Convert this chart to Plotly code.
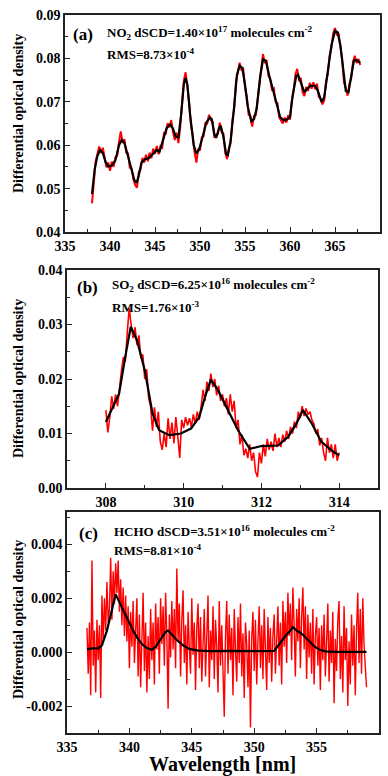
import numpy as np
import plotly.graph_objects as go

# ---------------- Panel (a) NO2 ----------------
no2_fit_wl = [338.0, 338.3, 338.6, 338.9, 339.2, 339.5, 339.8, 340.2, 340.6, 341.0, 341.3, 341.6,
              342.0, 342.4, 342.7, 342.95, 343.2, 343.5, 343.9, 344.3, 344.8, 345.2, 345.5, 345.9,
              346.3, 346.7, 347.0, 347.3, 347.6, 347.9, 348.2, 348.4, 348.6, 348.9, 349.3, 349.6,
              349.9, 350.3, 350.7, 351.1, 351.3, 351.6, 351.8, 352.1, 352.3, 352.6, 352.9, 353.1,
              353.4, 353.8, 354.1, 354.4, 354.7, 355.0, 355.3, 355.7, 356.0, 356.3, 356.7, 357.0,
              357.3, 357.7, 358.1, 358.5, 358.9, 359.3, 359.7, 360.0, 360.3, 360.7, 360.9, 361.2,
              361.6, 361.9, 362.3, 362.8, 363.1, 363.5, 363.8, 364.2, 364.6, 365.0, 365.3, 365.6,
              365.9, 366.2, 366.5, 366.8, 367.1, 367.4, 367.8]
no2_fit_od = [0.0487, 0.0545, 0.0575, 0.0589, 0.0582, 0.0562, 0.0551, 0.0553, 0.0565, 0.0600, 0.0612, 0.0605,
              0.0575, 0.0540, 0.0520, 0.0513, 0.0530, 0.0560, 0.0568, 0.0570, 0.0582, 0.0589, 0.0585, 0.0610,
              0.0640, 0.0648, 0.0638, 0.0620, 0.0618, 0.0670, 0.0740, 0.0755, 0.0740, 0.0670, 0.0600, 0.0581,
              0.0590, 0.0620, 0.0652, 0.0664, 0.0660, 0.0625, 0.0617, 0.0638, 0.0645, 0.0620, 0.0580, 0.0577,
              0.0610, 0.0690, 0.0762, 0.0783, 0.0778, 0.0740, 0.0690, 0.0655, 0.0660, 0.0685, 0.0760, 0.0798,
              0.0795, 0.0760, 0.0730, 0.0700, 0.0665, 0.0657, 0.0660, 0.0665, 0.0715, 0.0760, 0.0762, 0.0745,
              0.0722, 0.0730, 0.0737, 0.0737, 0.0725, 0.0700, 0.0710, 0.0770, 0.0830, 0.0863, 0.0860, 0.0830,
              0.0770, 0.0725, 0.0722, 0.0760, 0.0795, 0.0796, 0.0790]
no2_meas_start, no2_meas_step = 338.0, 0.2
no2_meas_od = [0.0466, 0.0520, 0.0562, 0.0580, 0.0597, 0.0582, 0.0594, 0.0572, 0.0549, 0.0560,
               0.0541, 0.0562, 0.0550, 0.0572, 0.0576, 0.0608, 0.0632, 0.0605, 0.0614, 0.0583,
               0.0581, 0.0548, 0.0547, 0.0521, 0.0508, 0.0502, 0.0538, 0.0545, 0.0571, 0.0560,
               0.0578, 0.0563, 0.0583, 0.0570, 0.0592, 0.0580, 0.0598, 0.0579, 0.0597, 0.0594,
               0.0628, 0.0627, 0.0651, 0.0641, 0.0658, 0.0631, 0.0612, 0.0629, 0.0605, 0.0641,
               0.0706, 0.0748, 0.0768, 0.0734, 0.0697, 0.0646, 0.0622, 0.0583, 0.0560, 0.0592,
               0.0588, 0.0618, 0.0621, 0.0651, 0.0650, 0.0670, 0.0658, 0.0655, 0.0617, 0.0624,
               0.0626, 0.0652, 0.0630, 0.0627, 0.0583, 0.0568, 0.0592, 0.0604, 0.0657, 0.0684,
               0.0747, 0.0766, 0.0790, 0.0774, 0.0776, 0.0733, 0.0712, 0.0670, 0.0667, 0.0643,
               0.0668, 0.0669, 0.0707, 0.0738, 0.0783, 0.0810, 0.0789, 0.0796, 0.0760, 0.0752,
               0.0728, 0.0731, 0.0700, 0.0697, 0.0664, 0.0655, 0.0650, 0.0664, 0.0652, 0.0669,
               0.0659, 0.0702, 0.0724, 0.0763, 0.0776, 0.0750, 0.0753, 0.0722, 0.0713, 0.0734,
               0.0725, 0.0744, 0.0730, 0.0745, 0.0729, 0.0742, 0.0711, 0.0708, 0.0694, 0.0703,
               0.0747, 0.0764, 0.0807, 0.0824, 0.0858, 0.0870, 0.0855, 0.0856, 0.0824, 0.0797,
               0.0744, 0.0732, 0.0714, 0.0741, 0.0754, 0.0791, 0.0806, 0.0789, 0.0799, 0.0785]

# ---------------- Panel (b) SO2 ----------------
so2_fit_wl = [308.0, 308.34, 308.5, 308.64, 308.8, 309.0, 309.2, 309.37, 309.63, 309.93, 310.19, 310.4,
              310.55, 310.7, 310.88, 311.14, 311.4, 311.7, 312.0, 312.43, 312.69, 312.9, 313.07, 313.3,
              313.54, 313.8, 314.0]
so2_fit_od = [0.0121, 0.0173, 0.0241, 0.0296, 0.0271, 0.0216, 0.0137, 0.0106, 0.0097, 0.0100, 0.0109, 0.0130,
              0.0167, 0.0199, 0.0180, 0.0143, 0.0106, 0.0072, 0.0077, 0.0078, 0.0094, 0.0118, 0.0143, 0.0118,
              0.0085, 0.0069, 0.0060]
so2_meas_start, so2_meas_step = 308.0, 0.05
so2_meas_od = [0.0143, 0.0102, 0.0130, 0.0168, 0.0145, 0.0172, 0.0150, 0.0185, 0.0215, 0.0240,
               0.0232, 0.0285, 0.0330, 0.0300, 0.0275, 0.0295, 0.0262, 0.0280, 0.0238, 0.0245,
               0.0200, 0.0218, 0.0165, 0.0150, 0.0105, 0.0148, 0.0112, 0.0140, 0.0085, 0.0070,
               0.0100, 0.0075, 0.0128, 0.0090, 0.0120, 0.0082, 0.0130, 0.0095, 0.0055, 0.0125,
               0.0110, 0.0130, 0.0115, 0.0128, 0.0112, 0.0135, 0.0118, 0.0140, 0.0125, 0.0150,
               0.0180, 0.0160, 0.0195, 0.0178, 0.0210, 0.0185, 0.0200, 0.0170, 0.0188, 0.0160,
               0.0172, 0.0150, 0.0165, 0.0135, 0.0172, 0.0140, 0.0160, 0.0110, 0.0125, 0.0080,
               0.0098, 0.0060, 0.0072, 0.0055, 0.0080, 0.0050, 0.0065, 0.0030, 0.0020, 0.0065,
               0.0045, 0.0080, 0.0058, 0.0090, 0.0070, 0.0085, 0.0068, 0.0100, 0.0075, 0.0092,
               0.0075, 0.0098, 0.0085, 0.0105, 0.0090, 0.0112, 0.0100, 0.0122, 0.0110, 0.0140,
               0.0128, 0.0150, 0.0132, 0.0146, 0.0135, 0.0140, 0.0125, 0.0118, 0.0100, 0.0108,
               0.0078, 0.0092, 0.0065, 0.0050, 0.0092, 0.0065, 0.0080, 0.0055, 0.0080, 0.0050,
               0.0065]

# ---------------- Panel (c) HCHO ----------------
hcho_fit_wl = [336.6, 337.0, 337.5, 337.8, 338.2, 338.6, 338.9, 339.1, 339.45, 339.85, 340.2, 340.6,
               341.0, 341.4, 341.8, 342.1, 342.5, 342.9, 343.1, 343.4, 343.8, 344.3, 344.8, 345.5,
               346.5, 348.0, 349.0, 350.5, 351.6, 352.0, 352.5, 352.9, 353.1, 353.4, 353.7, 354.0,
               354.4, 354.8, 355.2, 355.7, 356.5, 358.0, 359.0]
hcho_fit_od = [0.00010, 0.00014, 0.00014, 0.00025, 0.00080, 0.00160, 0.00215, 0.00195, 0.00160, 0.00124,
               0.00090, 0.00055, 0.00030, 0.00015, 0.00009, 0.00020, 0.00050, 0.00075, 0.00080, 0.00065,
               0.00045, 0.00025, 0.00012, 0.00006, 0.00004, 0.00005, 0.00004, 0.00004, 0.00005, 0.00030,
               0.00060, 0.00080, 0.00093, 0.00080, 0.00072, 0.00060, 0.00040, 0.00022, 0.00010, 0.00003,
               0.00001, 0.00001, 0.00001]
hcho_meas_start, hcho_meas_step = 336.6, 0.1
hcho_meas_od = [0.0009, -0.0008, 0.0011, -0.0016, 0.0034, -0.0005, 0.0008, -0.0015, 0.0012, -0.0003,
                0.0010, -0.0017, 0.0021, 0.0004, 0.0020, 0.0008, 0.0026, 0.0011, 0.0016, 0.0035,
                0.0012, 0.0030, 0.0018, 0.0033, 0.0022, 0.0034, 0.0015, 0.0027, 0.0010, 0.0024,
                0.0006, 0.0021, 0.0004, 0.0017, -0.0006, 0.0015, 0.0002, 0.0019, -0.0004, 0.0012,
                0.0020, -0.0009, 0.0014, -0.0013, 0.0008, 0.0022, -0.0007, 0.0011, -0.0015, 0.0006,
                -0.0010, 0.0016, -0.0003, 0.0011, -0.0012, 0.0018, 0.0001, 0.0013, -0.0008, 0.0020,
                0.0003, 0.0017, -0.0005, 0.0022, 0.0006, -0.0021, 0.0014, -0.0002, 0.0019, 0.0001,
                0.0016, -0.0006, 0.0031, 0.0004, 0.0018, -0.0009, 0.0012, 0.0023, -0.0004, 0.0010,
                -0.0012, 0.0015, 0.0002, -0.0008, 0.0020, -0.0001, 0.0011, -0.0014, 0.0009, 0.0018,
                -0.0006, 0.0013, -0.0011, 0.0007, 0.0016, -0.0009, 0.0004, 0.0021, -0.0013, 0.0008,
                -0.0003, 0.0017, -0.0010, 0.0012, 0.0002, -0.0015, 0.0019, -0.0005, 0.0010, -0.0012,
                -0.0024, 0.0006, 0.0019, -0.0008, 0.0014, -0.0003, 0.0009, -0.0016, 0.0016, 0.0001,
                -0.0011, 0.0013, -0.0004, 0.0018, -0.0009, 0.0007, -0.0017, 0.0011, 0.0003, -0.0013,
                0.0008, -0.0028, 0.0005, 0.0015, -0.0007, 0.0012, -0.0012, 0.0004, 0.0017, -0.0006,
                0.0010, -0.0010, 0.0016, 0.0001, -0.0014, 0.0013, -0.0004, 0.0009, -0.0011, 0.0006,
                0.0014, -0.0008, 0.0003, 0.0017, -0.0005, 0.0011, -0.0012, 0.0019, 0.0002, 0.0015,
                -0.0004, 0.0022, 0.0006, 0.0018, -0.0003, 0.0024, 0.0010, -0.0009, 0.0016, 0.0004,
                0.0020, -0.0006, 0.0013, 0.0024, 0.0001, 0.0017, -0.0010, 0.0014, -0.0002, 0.0011,
                -0.0008, 0.0016, -0.0012, 0.0006, 0.0013, -0.0005, 0.0009, -0.0014, 0.0010, -0.0003,
                0.0014, -0.0009, 0.0004, 0.0018, -0.0011, 0.0008, -0.0004, 0.0015, -0.0019, 0.0005,
                -0.0007, 0.0012, 0.0019, -0.0010, 0.0006, -0.0015, 0.0017, -0.0003, 0.0009, -0.0020,
                0.0004, -0.0012, 0.0014, -0.0005, 0.0010, -0.0016, 0.0008, 0.0022, -0.0004, 0.0016,
                -0.0008, 0.0020, 0.0003, -0.0006, -0.0013]

hcho_y_tickvals = [-0.002, 0.0, 0.002, 0.004]
hcho_y_ticktext = ["-0.002", "0.000", "0.002", "0.004"]

labels = [
    ("(a)", "NO<sub>2</sub> dSCD=1.40×10<sup>17</sup> molecules cm<sup>-2</sup>", "RMS=8.73×10<sup>-4</sup>"),
    ("(b)", "SO<sub>2</sub> dSCD=6.25×10<sup>16</sup> molecules cm<sup>-2</sup>", "RMS=1.76×10<sup>-3</sup>"),
    ("(c)", "HCHO dSCD=3.51×10<sup>16</sup> molecules cm<sup>-2</sup>", "RMS=8.81×10<sup>-4</sup>"),
]
y_title = "Differential optical density"
x_title = "Wavelength [nm]"

# ---------------- figure ----------------
W, H = 388, 776
FONT = "Liberation Serif"
RED = "#ff0000"

def meas_x(start, step, vals):
    return start + step * np.arange(len(vals))

fig = go.Figure()
panels = [
    (meas_x(no2_meas_start, no2_meas_step, no2_meas_od), no2_meas_od, no2_fit_wl, no2_fit_od, 2.0),
    (meas_x(so2_meas_start, so2_meas_step, so2_meas_od), so2_meas_od, so2_fit_wl, so2_fit_od, 1.6),
    (meas_x(hcho_meas_start, hcho_meas_step, hcho_meas_od), hcho_meas_od, hcho_fit_wl, hcho_fit_od, 1.4),
]
for i, (mx, my, fx, fy, rw) in enumerate(panels):
    sfx = "" if i == 0 else str(i + 1)
    fig.add_trace(go.Scatter(x=mx, y=my, mode="lines", line=dict(color=RED, width=rw),
                             xaxis="x" + sfx, yaxis="y" + sfx, showlegend=False))
    fig.add_trace(go.Scatter(x=fx, y=fy, mode="lines", line=dict(color="black", width=2.2),
                             xaxis="x" + sfx, yaxis="y" + sfx, showlegend=False))

# pixel boxes (left, right, top, bottom)
boxes = [(65, 380, 15, 232), (67, 378, 270, 488), (67, 379, 512, 733)]
xranges = [[335, 370], [307, 315], [335, 360]]
yranges = [[0.04, 0.09], [0.0, 0.04], [-0.003, 0.0052]]
xd = [5, 2, 5]
xminor = [2.5, 1, 2.5]
yd = [0.01, 0.01, 0.002]
yminor = [0.005, 0.005, 0.001]
yfmt = [".2f", ".2f", ".3f"]

tickfont = dict(family=FONT, size=14, color="black", weight="bold")
layout = dict(width=W, height=H, margin=dict(l=0, r=0, t=0, b=0),
              paper_bgcolor="white", plot_bgcolor="white", showlegend=False)
for i, (l, r, t, b) in enumerate(boxes):
    sfx = "" if i == 0 else str(i + 1)
    xa = dict(domain=[l / W, r / W], range=xranges[i], anchor="y" + sfx,
              showline=True, linecolor="#222", linewidth=1.5, mirror=True,
              ticks="inside", ticklen=5, tickwidth=1.3, tickcolor="#222",
              dtick=xd[i], tick0=0, showgrid=False, zeroline=False, tickfont=tickfont,
              minor=dict(ticks="inside", dtick=xminor[i], tick0=0, ticklen=3, tickcolor="#222", showgrid=False),
              automargin=False)
    ya = dict(domain=[1 - b / H, 1 - t / H], range=yranges[i], anchor="x" + sfx,
              showline=True, linecolor="#222", linewidth=1.5, mirror=True,
              ticks="inside", ticklen=5, tickwidth=1.3, tickcolor="#222",
              dtick=yd[i], tick0=0, tickformat=yfmt[i], showgrid=False, zeroline=False, tickfont=tickfont,
              minor=dict(ticks="inside", dtick=yminor[i], tick0=0, ticklen=3, tickcolor="#222", showgrid=False),
              automargin=False)
    if i == 2:
        ya.update(tickmode="array", tickvals=hcho_y_tickvals, ticktext=hcho_y_ticktext)
    layout["xaxis" + sfx] = xa
    layout["yaxis" + sfx] = ya

annotations = []
label_pos = [((83, 35), (105, 33), (105, 54)),
             ((87, 287), (110, 285), (110, 307)),
             ((88, 533), (112, 531), (112, 550))]
ytitle_center = [114, 379, 620]
for i, (tag, line1, line2) in enumerate(labels):
    (tx, ty), (ax, ay), (bx, by) = label_pos[i]
    annotations.append(dict(x=tx / W, y=1 - ty / H, xref="paper", yref="paper", text=tag, showarrow=False,
                            xanchor="center", yanchor="middle",
                            font=dict(family=FONT, size=17, color="black", weight="bold")))
    annotations.append(dict(x=ax / W, y=1 - ay / H, xref="paper", yref="paper", text=line1, showarrow=False,
                            xanchor="left", yanchor="middle",
                            font=dict(family=FONT, size=13, color="black", weight="bold")))
    annotations.append(dict(x=bx / W, y=1 - by / H, xref="paper", yref="paper", text=line2, showarrow=False,
                            xanchor="left", yanchor="middle",
                            font=dict(family=FONT, size=13, color="black", weight="bold")))
    annotations.append(dict(x=18 / W, y=1 - ytitle_center[i] / H, xref="paper", yref="paper", text=y_title,
                            showarrow=False, textangle=-90, xanchor="center", yanchor="middle",
                            font=dict(family=FONT, size=14, color="black", weight="bold")))
annotations.append(dict(x=(67 + 379) / 2 / W, y=1 - 764 / H, xref="paper", yref="paper", text=x_title,
                        showarrow=False, xanchor="center", yanchor="middle",
                        font=dict(family=FONT, size=20, color="black", weight="bold")))
layout["annotations"] = annotations
fig.update_layout(**layout)
fig.write_html("out.html")
